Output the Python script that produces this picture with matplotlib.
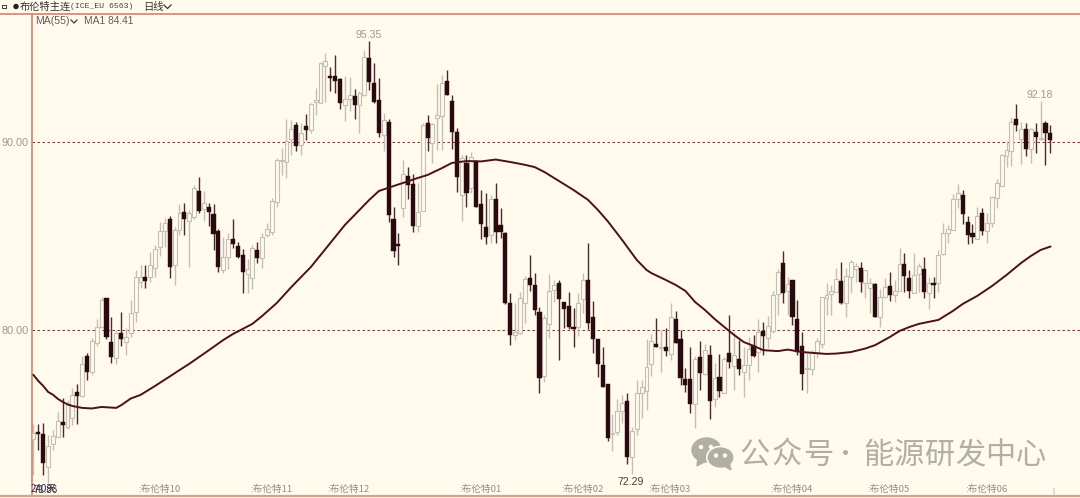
import numpy as np
import matplotlib
matplotlib.use("Agg")
import matplotlib.pyplot as plt
from matplotlib.patches import Ellipse, Polygon, Rectangle

plt.rcParams['font.family'] = ['Noto Sans CJK SC', 'DejaVu Sans']

highs = [
    75.00,74.98,75.05,74.39,74.66,75.63,76.34,76.25,76.89,77.10,
    78.58,78.75,79.55,80.56,81.74,81.69,80.69,79.97,80.91,80.08,
    81.57,83.17,83.43,83.43,84.14,84.49,85.73,85.91,86.03,85.47,
    86.68,86.75,86.36,87.69,88.13,87.38,86.71,86.68,85.36,84.90,
    85.11,85.88,84.67,84.26,83.73,84.49,84.67,85.11,85.65,86.98,
    89.12,89.64,91.18,91.14,91.05,90.98,91.46,92.05,92.83,94.24,
    94.69,93.98,94.60,93.36,93.48,93.41,92.78,92.70,94.87,95.35,
    94.16,93.36,91.53,91.20,86.53,85.11,89.02,88.66,88.27,87.78,
    90.97,91.41,90.97,93.06,93.54,93.80,92.47,90.70,89.28,89.28,
    89.46,89.02,87.42,87.28,87.16,87.81,86.45,85.19,81.92,81.42,
    82.00,82.85,83.96,83.01,81.18,80.77,82.94,82.63,82.63,81.46,
    82.00,81.13,81.92,82.99,84.62,81.53,79.49,79.09,77.10,75.50,
    76.32,76.52,76.64,74.83,77.31,77.31,79.48,79.76,80.60,79.97,
    80.06,81.42,80.99,79.97,77.97,79.05,78.59,79.40,79.22,79.17,
    78.20,78.70,78.55,80.77,79.88,79.44,79.09,79.62,79.71,80.54,
    80.41,80.72,82.06,83.20,84.19,82.81,82.63,81.57,79.88,78.75,
    78.91,79.53,81.73,82.46,82.37,83.25,83.57,83.25,83.70,83.53,
    83.61,83.19,82.74,82.45,82.14,82.74,83.07,82.63,84.35,84.09,
    83.17,84.05,83.55,83.84,82.81,82.81,84.23,85.68,85.56,87.21,
    87.74,87.42,86.03,85.61,86.53,86.45,86.20,87.10,87.99,89.34,
    90.03,91.32,91.98,91.05,90.97,90.72,90.97,92.18,91.09,90.88,
]
lows = [
    72.27,73.59,72.27,71.86,73.59,74.28,74.30,74.71,74.92,74.98,
    76.41,77.31,77.58,79.14,80.08,79.49,78.22,78.16,79.12,78.65,
    79.62,80.42,82.21,82.19,82.54,82.81,83.91,84.40,82.72,82.37,
    85.03,85.03,83.31,85.86,86.21,85.79,85.50,84.23,83.07,83.02,
    83.20,84.32,83.79,81.92,81.92,82.14,83.53,83.25,84.93,85.03,
    86.53,88.22,88.06,89.28,89.49,89.28,90.08,90.45,91.41,92.05,
    92.12,92.70,92.60,91.71,91.11,91.64,91.18,90.44,92.42,92.74,
    92.03,90.26,89.51,85.73,83.84,83.43,86.00,86.93,85.20,85.17,
    86.30,89.51,88.87,89.55,89.55,92.47,89.59,87.33,85.77,86.50,
    87.26,86.52,84.80,84.55,84.59,84.59,84.85,81.38,79.17,79.44,
    79.76,80.37,82.06,80.77,76.60,77.22,79.54,81.48,78.38,80.06,
    80.05,79.05,79.66,80.88,80.01,78.73,77.49,76.94,74.09,73.55,
    74.39,75.01,72.83,72.29,74.39,75.28,75.71,77.52,79.07,77.76,
    78.60,78.38,79.28,77.04,76.69,75.54,74.76,76.78,77.60,75.22,
    75.90,76.42,76.62,77.93,76.78,77.58,76.42,77.31,78.56,77.76,
    78.65,79.00,79.80,80.77,81.42,80.77,80.24,78.65,76.78,76.60,
    77.58,78.47,79.00,80.77,80.77,81.97,81.38,80.68,81.92,82.54,
    82.01,81.66,80.88,80.65,80.15,81.67,81.53,81.48,82.04,82.01,
    81.66,81.94,82.01,81.66,81.07,81.66,82.01,83.95,84.59,85.27,
    86.45,85.61,84.53,84.59,84.81,85.03,84.59,85.47,86.45,87.61,
    88.66,88.70,90.56,88.80,89.23,88.84,89.37,90.08,88.75,89.37,
]
opens = [
    74.16,74.57,74.45,72.67,73.91,74.30,75.08,74.83,75.29,76.69,
    76.48,78.59,77.75,79.30,80.12,81.66,79.35,78.47,79.80,79.32,
    79.80,80.95,82.54,82.78,82.78,83.27,84.39,85.25,85.86,83.43,
    85.29,86.27,85.75,85.97,87.38,86.39,86.51,86.13,85.22,83.17,
    83.88,84.80,84.44,83.96,82.94,82.75,84.21,83.78,85.03,85.20,
    86.80,88.95,88.93,90.12,90.86,89.80,90.82,90.61,92.09,92.06,
    94.03,93.41,93.47,93.31,91.92,92.28,92.42,91.92,92.46,94.43,
    93.13,92.21,90.36,91.04,85.86,84.48,86.45,88.18,87.74,85.50,
    86.32,91.00,89.90,91.25,91.36,93.23,92.14,90.49,87.14,88.87,
    87.51,88.95,86.68,85.44,85.01,86.94,85.56,85.15,81.39,79.69,
    79.80,81.42,82.73,82.38,80.95,77.52,80.29,82.10,82.46,81.46,
    81.25,80.14,80.15,81.64,82.63,80.65,79.47,78.09,77.10,74.46,
    74.55,75.68,76.18,73.20,74.72,76.60,76.74,78.16,79.25,79.00,
    79.09,78.69,80.54,79.51,77.35,77.35,76.02,78.52,77.63,78.66,
    76.29,77.46,76.64,78.77,78.08,78.41,77.74,78.13,79.14,78.82,
    79.92,79.53,79.92,81.89,83.55,82.06,82.63,80.58,79.12,77.88,
    77.90,78.73,79.23,81.69,81.89,81.98,82.58,81.39,82.78,83.24,
    83.26,82.49,82.22,82.42,80.65,81.74,82.33,81.82,82.06,83.50,
    82.72,81.96,82.94,83.20,81.96,82.47,82.46,84.04,85.11,85.29,
    86.93,87.17,85.73,85.15,84.83,86.18,85.25,85.68,86.98,87.63,
    89.23,89.49,91.21,90.12,90.65,89.59,90.52,90.12,90.97,90.44,
]
closes = [
    74.51,74.45,72.88,73.80,74.35,75.15,74.94,75.98,76.52,76.48,
    78.17,77.74,79.40,80.15,81.57,79.58,78.52,79.83,79.51,79.62,
    80.86,82.78,82.81,82.60,83.42,84.26,85.22,85.68,83.34,85.29,
    86.18,85.89,86.18,87.51,86.32,86.71,86.23,85.08,83.34,83.88,
    84.83,84.55,83.86,83.04,83.24,84.32,83.80,84.93,85.33,86.84,
    89.02,88.98,90.04,90.65,89.76,90.44,90.61,92.00,92.21,94.19,
    94.26,93.36,93.23,92.03,92.24,92.46,91.96,92.56,94.51,93.15,
    92.09,90.44,91.14,86.07,84.16,84.43,88.26,87.70,85.50,86.27,
    90.86,90.17,90.92,91.43,93.10,92.49,90.51,88.10,89.12,87.28,
    89.19,86.53,85.60,84.91,86.96,85.20,85.20,81.39,79.69,79.87,
    81.69,82.69,82.38,81.04,77.40,80.59,82.03,82.38,81.64,81.11,
    80.12,80.01,81.42,82.62,80.33,79.51,78.16,76.96,74.23,74.51,
    75.65,76.07,73.23,74.62,76.60,76.92,78.02,79.40,79.09,79.09,
    78.85,80.65,79.30,77.43,77.04,76.02,78.41,77.70,78.89,76.21,
    77.43,76.74,78.45,78.29,78.63,77.88,78.09,78.98,78.59,79.88,
    79.66,80.20,81.84,83.04,81.96,82.42,80.65,78.82,77.63,77.95,
    78.82,79.40,81.71,81.85,82.06,82.67,81.39,82.85,83.61,83.38,
    82.53,83.16,82.46,80.68,81.71,82.24,81.84,82.03,83.47,82.85,
    82.05,82.90,83.38,82.01,82.46,82.39,83.97,85.11,85.33,86.93,
    87.24,86.14,85.03,84.94,86.04,85.24,85.68,87.06,87.81,89.27,
    89.56,91.05,90.86,90.65,89.62,90.65,90.22,90.17,90.44,90.08,
]

# MA(55), read at a subset of the bars
ma_days = [0,1,2,3,4,5,6,7,8,10,12,14,17,18,20,22,24,25,28,30,32,35,37,39,41,43,45,47,50,53,57,
           60,62,64,66,69,71,74,76,79,81,84,86,89,92,95,98,101,103,105,107,109,111,114,116,118,
           121,124,126,127,130,132,134,136,138,140,142,144,146,148,150,153,155,158,163,165,168,
           171,173,176,178,180,182,186,189,191,194,197,200,203,205,207,209]
ma_values = [77.58,77.26,77.00,76.68,76.53,76.31,76.15,76.02,75.93,75.83,75.80,75.88,75.83,75.97,
             76.33,76.52,76.84,77.00,77.50,77.84,78.17,78.71,79.07,79.44,79.76,80.03,80.30,80.72,
             81.41,82.26,83.32,84.28,84.92,85.56,86.09,86.89,87.37,87.63,87.80,88.06,88.22,88.59,
             88.86,88.96,88.94,89.04,88.91,88.76,88.64,88.38,88.06,87.74,87.42,86.89,86.36,85.77,
             84.76,83.70,83.17,83.00,82.63,82.37,82.05,81.46,81.04,80.56,80.13,79.71,79.33,79.13,
             78.90,78.85,78.93,78.80,78.70,78.72,78.80,78.99,79.17,79.60,79.92,80.13,80.30,80.51,
             80.99,81.36,81.79,82.31,82.90,83.54,83.91,84.23,84.41]

month_days = [21.5, 44.5, 60.3, 87.5, 108.4, 126.3, 151.4, 171.3, 191.5]
month_labels = ["布伦特10", "布伦特11", "布伦特12", "布伦特01", "布伦特02",
                "布伦特03", "布伦特04", "布伦特05", "布伦特06"]
price_ticks = [90.0, 80.0]

BG = "#fffaeb"
DARK = "#2a0a0e"
GREY = "#c2c0b5"
LABEL = "#9a9a90"
FRAME = "#d9806f"
MARK = "#b0afa3"

W, H = 1080, 498
fig = plt.figure(figsize=(W / 100, H / 100), dpi=100, facecolor=BG)
ax = fig.add_axes([31.5 / W, 3 / H, (W - 31.5) / W, 481 / H], facecolor=BG)

days = np.arange(len(opens))
o, c, hi, lo = map(np.array, (opens, closes, highs, lows))
up = c >= o
top = np.maximum(o, c)
bot = np.minimum(o, c)

ax.vlines(days[up], lo[up], hi[up], color=GREY, lw=1.0, zorder=2)
ax.bar(days[up], np.maximum(top - bot, 0.05)[up], bottom=bot[up], width=0.8,
       facecolor=BG, edgecolor=GREY, lw=0.8, zorder=3)
ax.vlines(days[~up], lo[~up], hi[~up], color="#4a2a2a", lw=1.0, zorder=4)
ax.bar(days[~up], np.maximum(top - bot, 0.1)[~up], bottom=bot[~up], width=0.85,
       facecolor=DARK, edgecolor=DARK, lw=0.3, zorder=5)
ax.plot(ma_days, ma_values, color="#4a1216", lw=1.4, zorder=6)

for p in price_ticks:
    ax.axhline(p, color="#7a3a38", lw=0.75, ls=(0, (2.4, 2.4)), zorder=1)

ax.set_xlim(-0.41, 215.1)
ax.set_ylim(90 - (495 - 141.5) / 18.8, 90 + (141.5 - 14) / 18.8)
ax.set_xticks([])
ax.set_yticks(price_ticks)
ax.set_yticklabels(["%.2f" % p for p in price_ticks], fontsize=7.8, color=LABEL, family="Liberation Sans")
ax.tick_params(axis="y", length=0, pad=2)
for s in ("right", "bottom", "top"):
    ax.spines[s].set_visible(False)
ax.spines["left"].set_color(FRAME)
ax.spines["left"].set_linewidth(1.2)

tr = ax.get_xaxis_transform()
for d, label in zip(month_days, month_labels):
    ax.text(d, 0.0115, ":" + label, transform=tr, fontsize=6.9, color="#8f8f88", va="center", ha="left", zorder=7)
ax.text(209.6, 0.006, "|", transform=tr, fontsize=5, color="#8f8f88", va="center", ha="center")

# price notes on the extremes
ax.annotate("95.35", (68.8, 95.35), xytext=(0, 0.5), textcoords="offset points", ha="center", va="bottom",
            fontsize=7.6, color=LABEL, family="Liberation Sans")
ax.annotate("92.18", (207.2, 92.18), xytext=(-1.2, 0.5), textcoords="offset points", ha="center", va="bottom",
            fontsize=7.6, color=LABEL, family="Liberation Sans")
ax.annotate("72.29", (122.7, 72.29), xytext=(0, -1.5), textcoords="offset points", ha="center", va="top",
            fontsize=7.6, color="#4a4038", family="Liberation Sans")

# overlay in image pixels for header, frame lines and watermark
px = fig.add_axes([0, 0, 1, 1], facecolor="none")
px.set_xlim(0, W)
px.set_ylim(H, 0)
px.axis("off")

px.plot([0, W], [14, 14], color=FRAME, lw=1.2)
px.plot([0, W], [495.5, 495.5], color="#d8a08c", lw=1.6)

px.add_patch(Rectangle((1.5, 4.5), 4, 3, facecolor="none", edgecolor="#333333", lw=0.7))
px.add_patch(Ellipse((16, 6.5), 4, 4, color="#222222"))
px.text(20, 6.5, "布伦特主连", fontsize=7.4, color="#333333", va="center", ha="left")
px.text(70, 6.5, "(ICE_EU 6563)", fontsize=5.9, color="#444444", va="center", ha="left", family="Liberation Mono")
px.text(143, 6.5, "日线", fontsize=7.4, color="#333333", va="center", ha="left")
px.plot([164, 167.5, 171], [5, 8.5, 5], color="#333333", lw=0.9)

px.text(35, 21, "MA(55)", fontsize=7.6, color="#6a5a5a", va="center", ha="left", family="Liberation Sans")
px.plot([71, 74, 77], [20, 23, 20], color="#553333", lw=0.9)
px.text(84, 21, "MA1 84.41", fontsize=7.4, color="#6a5a5a", va="center", ha="left", family="Liberation Sans")

px.text(31, 488.5, "240天", fontsize=7.0, color="#2e2e5c", va="center", ha="left")
px.text(33, 489.5, "71.86", fontsize=7.0, color="#3a3330", va="center", ha="left", family="Liberation Sans")

# wechat mark
px.add_patch(Ellipse((706.5, 450), 29, 24, color=MARK))
px.add_patch(Polygon([[698, 458], [697, 466], [706, 461]], color=MARK))
px.add_patch(Ellipse((720.5, 457.5), 27.5, 22, facecolor=MARK, edgecolor=BG, lw=1.2))
px.add_patch(Polygon([[724, 466], [731, 470], [729, 462]], color=MARK))
for ex, ey in [(701, 447), (711, 447), (716, 455.5), (725, 455.5)]:
    px.add_patch(Ellipse((ex, ey), 3, 3, color=BG))
for i, ch in enumerate("公众号"):
    px.text(755 + i * 31.5, 455, ch, fontsize=21.8, color=MARK, va="center", ha="center")
px.text(845, 455, "·", fontsize=18, color=MARK, va="center", ha="center")
for i, ch in enumerate("能源研发中心"):
    px.text(878 + i * 30.6, 455, ch, fontsize=21.8, color=MARK, va="center", ha="center")

fig.savefig("out.png", dpi=100, facecolor=BG)
